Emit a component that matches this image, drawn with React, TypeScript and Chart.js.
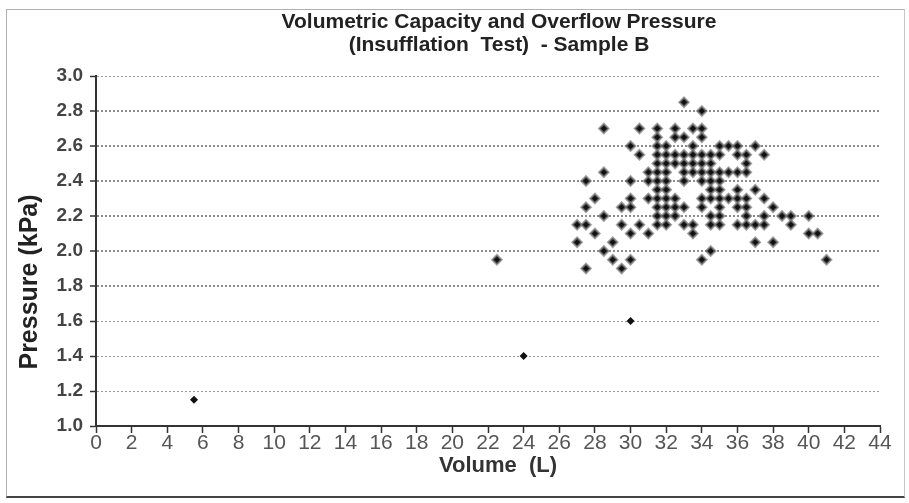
import React, { useEffect, useRef } from "react";
import { Chart, registerables } from "chart.js";

Chart.register(...registerables);

// ---- Data ----
const titleLines = ["Volumetric Capacity and Overflow Pressure", "(Insufflation  Test)  - Sample B"];
const xAxisTitle = "Volume  (L)";
const yAxisTitle = "Pressure (kPa)";

const volumeTicks = [0, 2, 4, 6, 8, 10, 12, 14, 16, 18, 20, 22, 24, 26, 28, 30, 32, 34, 36, 38, 40, 42, 44];
const pressureTicks = [1.0, 1.2, 1.4, 1.6, 1.8, 2.0, 2.2, 2.4, 2.6, 2.8, 3.0];

// pressure level (kPa) of each row of measurements
const pressureLevels = [2.85, 2.8, 2.7, 2.65, 2.6, 2.55, 2.5, 2.45, 2.4, 2.35, 2.3, 2.25, 2.2, 2.15, 2.1, 2.05, 2.0, 1.95, 1.9, 1.6, 1.4, 1.15];
// volumes (L) measured at each pressure level above
const volumesAtLevel = [
  [33],
  [34],
  [28.5, 30.5, 31.5, 32.5, 33.5, 34],
  [31.5, 32.5, 33, 34],
  [30, 31.5, 32, 33.5, 35, 35.5, 36, 37],
  [30.5, 31.5, 32, 32.5, 33, 33.5, 34, 34.5, 35, 36, 36.5, 37.5],
  [31.5, 32, 32.5, 33, 33.5, 34, 34.5, 36.5],
  [28.5, 31, 31.5, 32, 33, 33.5, 34, 34.5, 35, 35.5, 36, 36.5],
  [27.5, 30, 31, 31.5, 32, 33, 34, 34.5, 35],
  [31.5, 32, 34.5, 35, 36, 37],
  [28, 30, 31, 31.5, 32, 32.5, 34, 34.5, 35, 35.5, 36, 36.5, 37.5],
  [27.5, 29.5, 30, 31.5, 32, 32.5, 33, 34, 35, 36, 36.5, 38],
  [28.5, 31.5, 32, 32.5, 34.5, 35, 36.5, 37.5, 38.5, 39, 40],
  [27, 27.5, 29.5, 30.5, 31.5, 32, 33, 33.5, 34.5, 35, 36, 36.5, 37, 37.5, 39],
  [28, 30, 31, 33.5, 40, 40.5],
  [27, 29, 37, 38],
  [28.5, 34.5],
  [22.5, 29, 30, 34, 41],
  [27.5, 29.5],
  [30],
  [24],
  [5.5],
];

const FONT = '"Liberation Sans", Arial, Helvetica, sans-serif';

const textPlugin = {
  id: "refTexts",
  afterDraw(chart: any) {
    const { ctx, chartArea } = chart;
    const cx = (chartArea.left + chartArea.right) / 2;
    ctx.save();
    ctx.textAlign = "center";
    ctx.textBaseline = "middle";
    ctx.fillStyle = "#222";
    ctx.font = `bold 21px ${FONT}`;
    ctx.fillText(titleLines[0], cx + 11, 22);
    ctx.fillText(titleLines[1], cx + 11, 45);
    ctx.fillStyle = "#333";
    ctx.font = `bold 22px ${FONT}`;
    ctx.fillText(xAxisTitle, cx + 10, 466);
    ctx.translate(30, (chartArea.top + chartArea.bottom) / 2 + 31);
    ctx.rotate(-Math.PI / 2);
    ctx.font = `bold 25px ${FONT}`;
    ctx.fillStyle = "#222";
    ctx.fillText(yAxisTitle, 0, 0);
    ctx.restore();
  },
};

export default function App() {
  const ref = useRef<HTMLCanvasElement | null>(null);

  useEffect(() => {
    if (!ref.current) return;
    const points = pressureLevels.flatMap((p, i) => volumesAtLevel[i].map((v) => ({ x: v, y: p })));
    const isIsolated = (c: any) => {
      const r = c.raw;
      return r && r.y < 1.7;
    };
    const chart = new Chart(ref.current, {
      type: "scatter",
      data: {
        datasets: [
          {
            label: "Sample B",
            data: points,
            pointStyle: "rectRot",
            pointRadius: (c: any) => (isIsolated(c) ? 4 : 4.6),
            backgroundColor: "#111",
            borderColor: (c: any) => (isIsolated(c) ? "#111" : "rgba(120,120,120,0.7)"),
            borderWidth: (c: any) => (isIsolated(c) ? 0 : 2.2),
          },
        ],
      },
      plugins: [textPlugin],
      options: {
        animation: false,
        responsive: false,
        devicePixelRatio: 1,
        layout: { padding: { top: 76, right: 29, bottom: 0, left: 0 } },
        plugins: {
          legend: { display: false },
          title: { display: false },
          tooltip: { enabled: false },
        },
        scales: {
          x: {
            type: "linear",
            min: 0,
            max: 44,
            afterBuildTicks: (s: any) => {
              s.ticks = volumeTicks.map((v) => ({ value: v }));
            },
            afterFit: (s: any) => {
              s.height = 77;
            },
            ticks: {
              autoSkip: false,
              maxRotation: 0,
              padding: -2,
              color: "#555",
              font: { family: FONT, size: 21 },
              callback: (v: any) => String(v),
            },
            grid: {
              drawOnChartArea: false,
              drawTicks: true,
              tickLength: 7,
              tickColor: "#333",
              tickWidth: 1.5,
            },
            border: { display: true, color: "#333", width: 2 },
          },
          y: {
            type: "linear",
            min: 1.0,
            max: 3.0,
            afterBuildTicks: (s: any) => {
              s.ticks = pressureTicks.map((v) => ({ value: v }));
            },
            afterFit: (s: any) => {
              s.width = 96;
            },
            ticks: {
              autoSkip: false,
              padding: 7,
              color: "#444",
              font: { family: FONT, size: 19, weight: "bold" },
              callback: (v: any) => Number(v).toFixed(1),
            },
            grid: {
              drawOnChartArea: true,
              drawTicks: true,
              tickLength: 6,
              tickColor: "#333",
              tickWidth: 1.5,
              color: (c: any) => {
                const v = c.tick ? c.tick.value : 0;
                return v > 1.7 && v < 2.9 ? "#8c8c8c" : "#9a9a9a";
              },
              lineWidth: (c: any) => {
                const v = c.tick ? c.tick.value : 0;
                return v > 1.7 && v < 2.9 ? 2 : 1;
              },
            },
            border: { display: true, color: "#333", width: 2, dash: [2, 2] },
          },
        },
      },
    } as any);
    return () => chart.destroy();
  }, []);

  return (
    <div style={{ position: "fixed", left: 0, top: 0, width: 909, height: 503, background: "#fff" }}>
      <div
        style={{
          position: "absolute",
          left: 6,
          top: 9,
          width: 897,
          height: 486,
          borderTop: "1px solid #b0b0b0",
          borderLeft: "1px solid #b0b0b0",
          borderRight: "1px solid #c8c8c8",
          borderBottom: "2px solid #444",
        }}
      />
      <canvas ref={ref} width={909} height={503} style={{ position: "absolute", left: 0, top: 0 }} />
    </div>
  );
}
